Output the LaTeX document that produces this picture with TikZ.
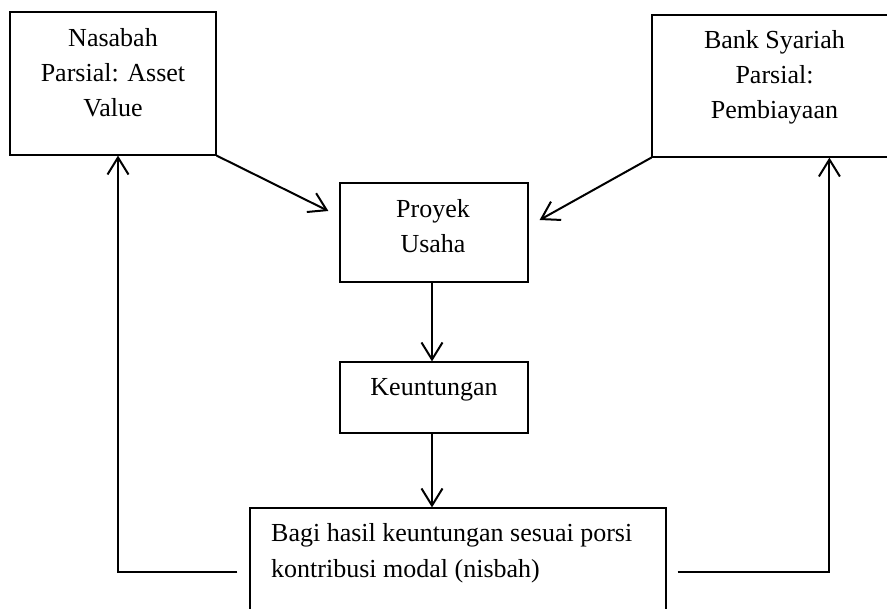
\documentclass[tikz,border=0pt]{standalone}
\usepackage{fontspec}
\setmainfont{Liberation Serif}
\usetikzlibrary{arrows.meta,calc}
\begin{document}
\begin{tikzpicture}[x=1pt,y=-1pt,
  box/.style={draw, line width=1.2pt, inner sep=0pt},
  lbl/.style={font=\fontsize{26}{35}\selectfont, inner sep=0pt, anchor=base},
  flow/.style={line width=2pt, -{Straight Barb[length=17pt,width=21pt]}}]
\clip (0,0) rectangle (887,609);

% boxes
\node[box, minimum width=206pt, minimum height=143pt] (nas)  at (113,83.5)  {};
\node[box, minimum width=245pt, minimum height=142pt] (bank) at (774.5,86)  {};
\node[box, minimum width=188pt, minimum height=99pt]  (proj) at (434,232.5) {};
\node[box, minimum width=188pt, minimum height=71pt]  (keu)  at (434,397.5) {};
\node[box, minimum width=416pt, minimum height=117pt] (bagi) at (458,566.5) {};

% labels (anchored at the baseline of their last line)
\node[lbl, align=center] (tnas)  at (113,117)   {Nasabah\\Parsial: Asset\\Value};
\node[lbl, align=center] (tbank) at (774.5,119) {Bank Syariah\\Parsial:\\Pembiayaan};
\node[lbl, align=center] (tproj) at (433,253)   {Proyek\\Usaha};
\node[lbl] (tkeu) at (434,396) {Keuntungan};
\node[lbl, font=\fontsize{26}{36}\selectfont, align=left, anchor=base west] (tbagi) at (271,578)
  {Bagi hasil keuntungan sesuai porsi\\kontribusi modal (nisbah)};

% flows
\draw[flow] (nas.south east) -- ($(proj.west)+(-11,-21.5)$);
\draw[flow] (bank.south west) -- ($(proj.east)+(11,-12.5)$);
\draw[flow] ($(proj.south)+(-2,0)$) -- ($(keu.north)+(-2,0)$);
\coordinate (k1) at ($(keu.south)+(-2,0)$);
\draw[flow] (k1) -- (k1 |- bagi.north);

% returns to both parties
\coordinate (bl) at ($(bagi.west)+(-12,5.5)$);
\coordinate (br) at ($(bagi.east)+(11,5.5)$);
\coordinate (nl) at ($(nas.south)+(5,0)$);
\coordinate (bn) at ($(bank.south west)+(178,0)$);
\draw[flow] (bl) -| (nl);
\draw[flow] (br) -| (bn);
\end{tikzpicture}
\end{document}
